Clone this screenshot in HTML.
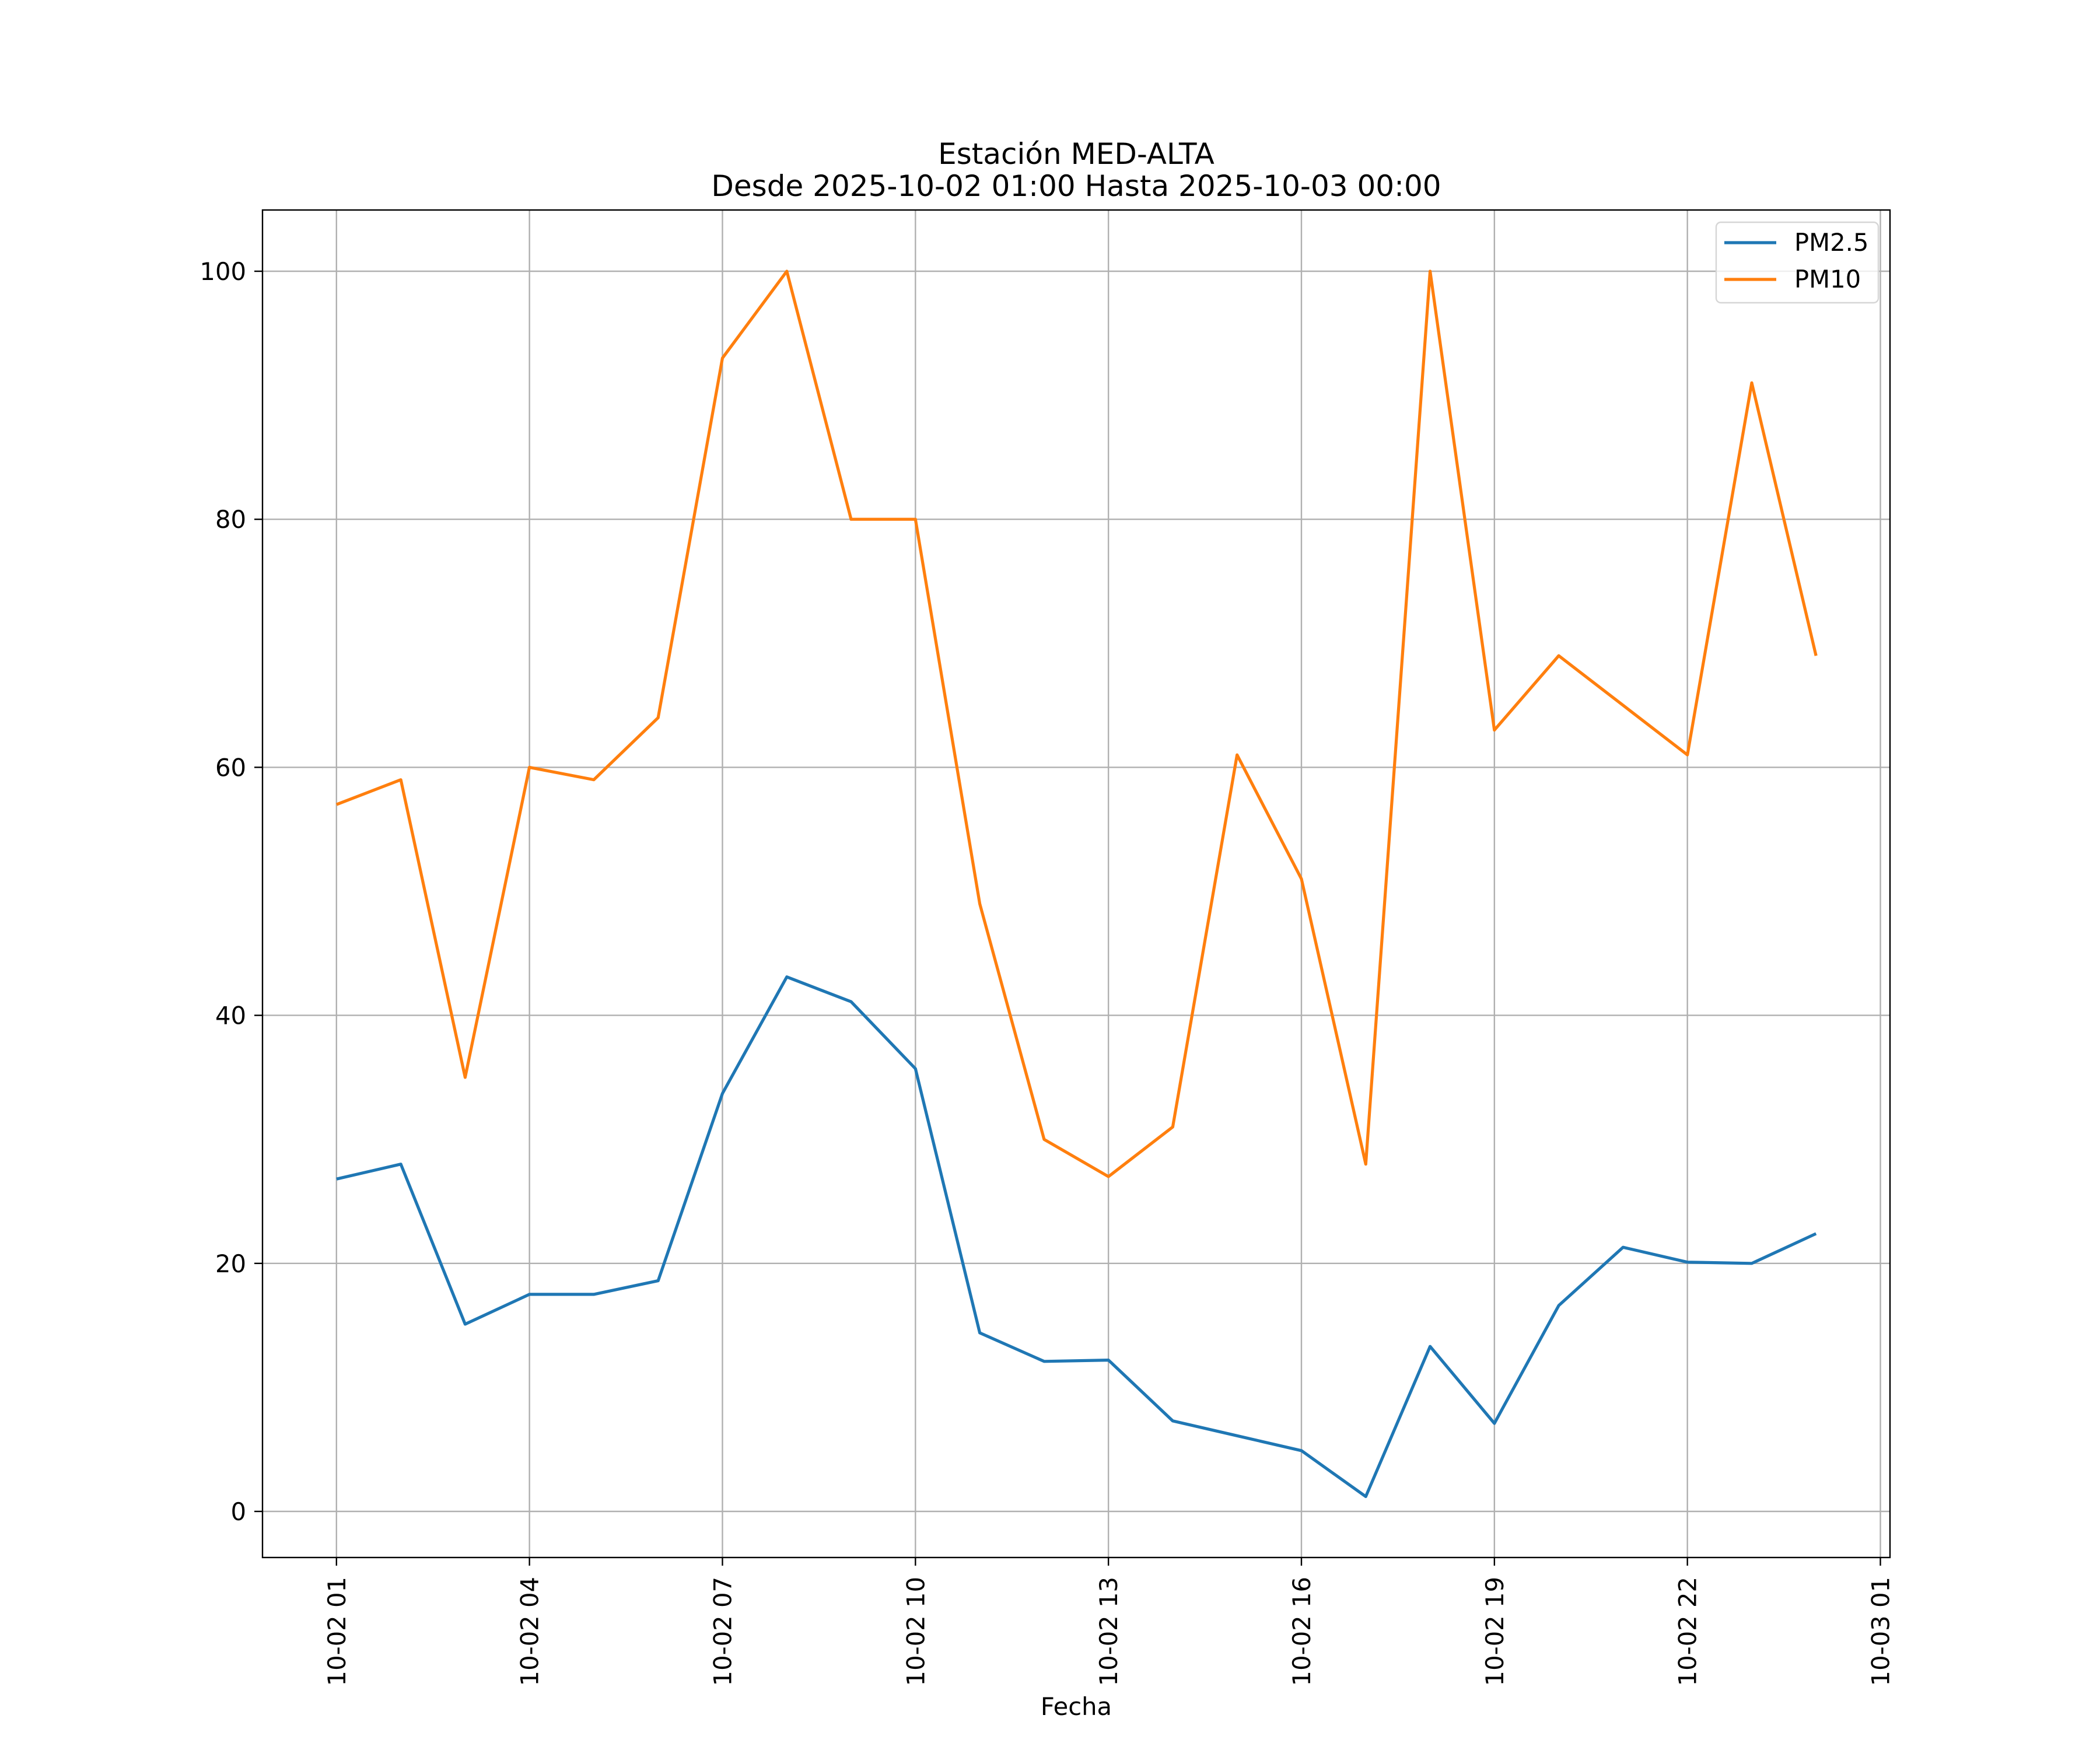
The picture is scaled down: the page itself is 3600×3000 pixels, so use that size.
<!DOCTYPE html>
<html><head><meta charset="utf-8"><style>html,body{margin:0;padding:0;background:#fff}svg{display:block}</style></head>
<body>
<svg id="s" width="3600" height="3000" xmlns="http://www.w3.org/2000/svg" font-family="DejaVu Sans, Liberation Sans, sans-serif">
<rect width="3600" height="3000" fill="#fff"/>
<g id="grid" stroke="#b0b0b0" stroke-width="2.4"></g>
<polyline id="p25" fill="none" stroke="#1f77b4" stroke-width="5.2" stroke-linejoin="round"/>
<polyline id="p10" fill="none" stroke="#ff7f0e" stroke-width="5.2" stroke-linejoin="round"/>
<rect x="450" y="360" width="2790" height="2310" fill="none" stroke="#000" stroke-width="2.4"/>
<g id="ticks" stroke="#000" stroke-width="2.4"></g>
<g id="labels" font-size="41.7" fill="#000"></g>
<text x="1845" y="281" font-size="50" text-anchor="middle">Estación MED-ALTA</text>
<text x="1845" y="336" font-size="50" text-anchor="middle">Desde 2025-10-02 01:00 Hasta 2025-10-03 00:00</text>
<text x="1845" y="2940" font-size="41.7" text-anchor="middle">Fecha</text>
<rect x="2942" y="381" width="278" height="138" rx="8" fill="#fff" fill-opacity="0.8" stroke="#d6d6d6" stroke-width="2.4"/>
<line x1="2956" y1="416" x2="3045" y2="416" stroke="#1f77b4" stroke-width="5.2"/>
<line x1="2956" y1="479" x2="3045" y2="479" stroke="#ff7f0e" stroke-width="5.2"/>
<text x="3076" y="430" font-size="41.7">PM2.5</text>
<text x="3076" y="493" font-size="41.7">PM10</text>
</svg>
<script>
var NS="http://www.w3.org/2000/svg";
function X(h){return 576.8+h*110.28;}
function Y(v){return 2591-v*21.26;}
var pm25=[26.8,28.0,15.1,17.5,17.5,18.6,33.7,43.1,41.1,35.7,14.4,12.1,12.2,7.3,6.1,4.9,1.2,13.3,7.1,16.6,21.3,20.1,20.0,22.4];
var pm10=[57,59,35,60,59,64,93,100,80,80,49,30,27,31,61,51,28,100,63,69,65,61,91,69];
function pts(a){return a.map(function(v,i){return X(i).toFixed(1)+","+Y(v).toFixed(1)}).join(" ");}
document.getElementById("p25").setAttribute("points",pts(pm25));
document.getElementById("p10").setAttribute("points",pts(pm10));
function el(p,t,a,txt){var e=document.createElementNS(NS,t);for(var k in a)e.setAttribute(k,a[k]);if(txt!==undefined)e.textContent=txt;p.appendChild(e);return e;}
var g=document.getElementById("grid"),tk=document.getElementById("ticks"),lb=document.getElementById("labels");
var names=["10-02 01","10-02 04","10-02 07","10-02 10","10-02 13","10-02 16","10-02 19","10-02 22","10-03 01"];
for(var i=0;i<9;i++){var x=X(i*3);
el(g,"line",{x1:x,y1:360,x2:x,y2:2670});
el(tk,"line",{x1:x,y1:2670,x2:x,y2:2684});
el(lb,"text",{x:0,y:0,"text-anchor":"end",transform:"translate("+(x+15)+",2703) rotate(-90)"},names[i]);}
for(var v=0;v<=100;v+=20){var y=Y(v);
el(g,"line",{x1:450,y1:y,x2:3240,y2:y});
el(tk,"line",{x1:436,y1:y,x2:450,y2:y});
el(lb,"text",{x:422,y:y+15,"text-anchor":"end"},String(v));}
</script>
</body></html>
